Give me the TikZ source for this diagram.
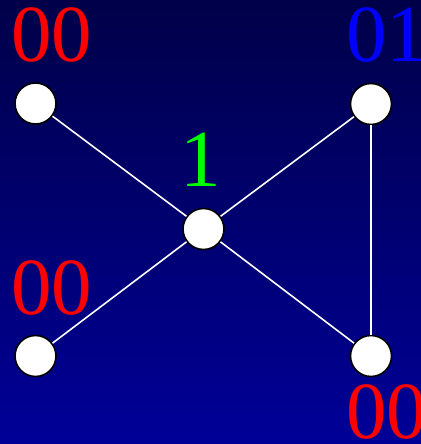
\documentclass[tikz,border=0pt]{standalone}
\usepackage{fontspec}
\setmainfont{Liberation Serif}
\begin{document}
\begin{tikzpicture}[x=1bp,y=-1bp,
  vtx/.style={circle,draw=black,fill=white,line width=1.6bp,minimum size=41bp,inner sep=0pt},
  edge/.style={draw=white,line width=1.6bp},
  lbl/.style={anchor=base,inner sep=0pt,font=\fontsize{81bp}{81bp}\selectfont}]
\definecolor{bgtop}{RGB}{0,0,72}
\definecolor{bgbot}{RGB}{0,0,152}
\definecolor{lred}{RGB}{255,0,0}
\definecolor{lblue}{RGB}{0,0,255}
\definecolor{lgreen}{RGB}{0,255,0}
\useasboundingbox (0,0) rectangle (420,444);
\shade[top color=bgtop,bottom color=bgbot] (-4,-4) rectangle (424,448);
\node[vtx] (tl) at (35.5,103.5) {};
\node[vtx] (tr) at (371,104) {};
\node[vtx] (c) at (203.5,229) {};
\node[vtx] (bl) at (35.5,356) {};
\node[vtx] (br) at (371,356) {};
\path[edge] (tl) -- (c);
\path[edge] (tr) -- (c);
\path[edge] (bl) -- (c);
\path[edge] (c) -- (br);
\path[edge] (tr) -- (br);
\node[lbl,text=lred] (ltl) at (51.5,62) {00};
\node[lbl,text=lblue] (ltr) at (386.5,62) {01};
\node[lbl,text=lgreen] (lc) at (201,187) {1};
\node[lbl,text=lred] (lbl) at (51.5,314) {00};
\node[lbl,text=lred] (lbr) at (386.5,438) {00};
\end{tikzpicture}
\end{document}
